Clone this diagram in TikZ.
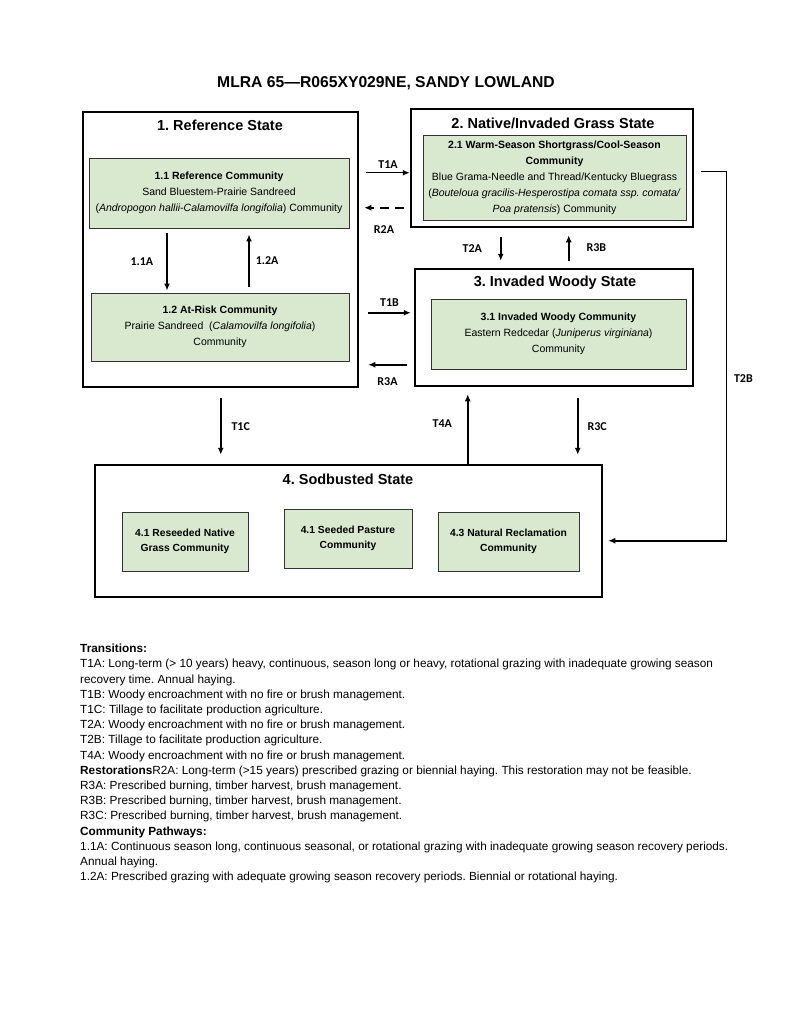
\documentclass[tikz,border=0pt]{standalone}
\usepackage{fontspec}
\setmainfont{Liberation Sans}
\newfontfamily\lblfont{Carlito}
\usetikzlibrary{arrows.meta}
\definecolor{commgreen}{RGB}{216,233,207}

\begin{document}
\frenchspacing
\begin{tikzpicture}[x=1pt,y=-1pt,
    state/.style={draw,line width=2.5pt,inner sep=0pt},
    comm/.style={draw=black!80,line width=0.9pt,fill=commgreen,inner sep=0pt,align=center,
      font=\fontsize{10.5}{16}\selectfont},
    comm4/.style={comm,font=\fontsize{10.3}{15}\selectfont\bfseries},
    sttitle/.style={font=\fontsize{14.5}{16}\selectfont\bfseries,inner sep=0pt},
    arr/.style={-{Latex[length=7pt,width=6pt]},line width=1.5pt},
    lbl/.style={font=\lblfont\fontsize{12}{14}\selectfont\bfseries,inner sep=0pt}]
        \useasboundingbox (0,0) rectangle (800,1035);
        \node[sttitle,font=\fontsize{15.7}{17}\selectfont\bfseries] at (386,83) (title) {MLRA 65---R065XY029NE, SANDY LOWLAND};
        % states
        \node[state,minimum width=275pt,minimum height=275pt] at (220.5,249.5) (s1) {};
        \node[state,minimum width=282pt,minimum height=118pt] at (552,168) (s2) {};
        \node[state,minimum width=278pt,minimum height=117pt] at (554,327.5) (s3) {};
        \node[state,minimum width=507pt,minimum height=132pt] at (348.5,531) (s4) {};
        \node[sttitle] at (220,125) (s1t) {1. Reference State};
        \node[sttitle] at (553,123) (s2t) {2. Native/Invaded Grass State};
        \node[sttitle] at (555,283) (s3t) {3. Invaded Woody State};
        \node[sttitle] at (348,479) (s4t) {4. Sodbusted State};
        % communities
        \node[comm,minimum width=260pt,minimum height=70pt] at (219,193) (c11)
          {\textbf{1.1 Reference Community}\\ Sand Bluestem-Prairie Sandreed\\
           (\textit{Andropogon hallii-Calamovilfa longifolia}) Community};
        \node[comm,minimum width=258pt,minimum height=68pt] at (220,327) (c12)
          {\textbf{1.2 At-Risk Community}\\ Prairie Sandreed\ \ (\textit{Calamovilfa longifolia})\\ Community};
        \node[comm,minimum width=263pt,minimum height=85pt] at (554.5,177.5) (c21)
          {\textbf{2.1 Warm-Season Shortgrass/Cool-Season}\\ \textbf{Community}\\
           Blue Grama-Needle and Thread/Kentucky Bluegrass\\
           (\textit{Bouteloua gracilis-Hesperostipa comata ssp. comata/}\\
           \textit{Poa pratensis}) Community};
        \node[comm,minimum width=255pt,minimum height=70pt] at (558.5,334) (c31)
          {\textbf{3.1 Invaded Woody Community}\\ Eastern Redcedar (\textit{Juniperus virginiana})\\ Community};
        \node[comm4,minimum width=126pt,minimum height=59pt] at (185,541.5) (c41)
          {4.1 Reseeded Native\\ Grass Community};
        \node[comm4,minimum width=128pt,minimum height=59pt] at (348,538.5) (c42)
          {4.1 Seeded Pasture\\ Community};
        \node[comm4,minimum width=141pt,minimum height=59pt] at (508.5,541.5) (c43)
          {4.3 Natural Reclamation\\ Community};
        % pathways
        \draw[arr] ([shift={(-52,5)}]c11.south) -- ([shift={(-53,-2)}]c12.north)
          node[lbl,midway,left=13pt] {1.1A};
        \draw[arr] ([shift={(29,-6)}]c12.north) -- ([shift={(30,6)}]c11.south)
          node[lbl,midway,right=6pt] {1.2A};
        % transitions
        \draw[arr] ([shift={(7,62)}]s1.north east) -- ([shift={(0,65)}]s2.north west)
          node[lbl,midway,above=4pt] {T1A};
        \draw[arr,dash pattern=on 9pt off 6pt] ([shift={(-6,100)}]s2.north west) -- ([shift={(5,97)}]s1.north east)
          node[lbl,midway,below=17pt] {R2A};
        \draw[arr] ([shift={(9,202)}]s1.north east) -- ([shift={(-3,45)}]s3.north west)
          node[lbl,midway,above=6pt] {T1B};
        \draw[arr] ([shift={(-7,97)}]s3.north west) -- ([shift={(9,254)}]s1.north east)
          node[lbl,midway,below=12pt] {R3A};
        \draw[arr] ([shift={(91,9)}]s2.south west) -- ([shift={(87,-7)}]s3.north west)
          node[lbl,midway,left=18pt] {T2A};
        \draw[arr] ([shift={(155,-7)}]s3.north west) -- ([shift={(159,7)}]s2.south west)
          node[lbl,midway,right=17pt] {R3B};
        \draw[arr] ([shift={(139,10)}]s1.south west) -- ([shift={(127,-9)}]s4.north west)
          node[lbl,midway,right=10pt] {T1C};
        \draw[arr] ([shift={(374,0)}]s4.north west) -- ([shift={(54,7)}]s3.south west)
          node[lbl,pos=0.58,left=15pt] {T4A};
        \draw[arr] ([shift={(164,11)}]s3.south west) -- ([shift={(484,-9)}]s4.north west)
          node[lbl,midway,right=9pt] {R3C};
        \draw[arr] ([shift={(7,64)}]s2.north east) -- ++(25,0) |- ([shift={(5,77)}]s4.north east)
          node[lbl,pos=0.28,right=7pt] {T2B};
        % notes
        \node[anchor=north west,align=left,inner sep=0pt,font=\fontsize{11.8}{15.2}\selectfont] at (80,644) (notes)
          {\textbf{Transitions:}\\
           T1A: Long-term (> 10 years) heavy, continuous, season long or heavy, rotational grazing with inadequate growing season\\
           recovery time. Annual haying.\\
           T1B: Woody encroachment with no fire or brush management.\\
           T1C: Tillage to facilitate production agriculture.\\
           T2A: Woody encroachment with no fire or brush management.\\
           T2B: Tillage to facilitate production agriculture.\\
           T4A: Woody encroachment with no fire or brush management.\\
           \textbf{Restorations}R2A: Long-term (>15 years) prescribed grazing or biennial haying. This restoration may not be feasible.\\
           R3A: Prescribed burning, timber harvest, brush management.\\
           R3B: Prescribed burning, timber harvest, brush management.\\
           R3C: Prescribed burning, timber harvest, brush management.\\
           \textbf{Community Pathways:}\\
           1.1A: Continuous season long, continuous seasonal, or rotational grazing with inadequate growing season recovery periods.\\
           Annual haying.\\
           1.2A: Prescribed grazing with adequate growing season recovery periods. Biennial or rotational haying.};
      \end{tikzpicture}
\end{document}
